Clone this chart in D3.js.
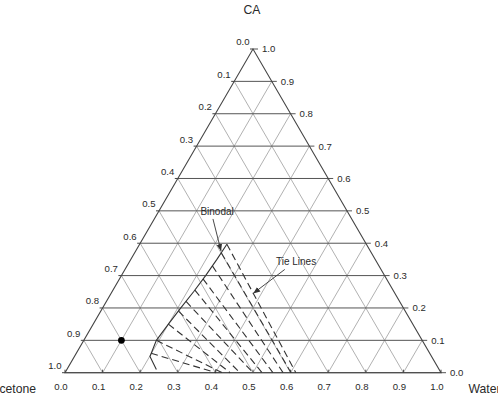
<!DOCTYPE html>
<html><head><meta charset="utf-8">
<script src="https://cdn.jsdelivr.net/npm/d3@7/dist/d3.min.js"></script>
<style>
html,body{margin:0;padding:0;background:#fff;}
svg{display:block;font-family:"Liberation Sans",Arial,sans-serif;}
</style></head>
<body>
<svg id="chart" width="498" height="397"></svg>
<script>
// ---- data ----
const tickValues = [0,0.1,0.2,0.3,0.4,0.5,0.6,0.7,0.8,0.9,1.0];
const bottomLabels = ["0.0","0.1","0.2","0.3","0.4","0.5","0.6","0.7","0.8","0.9","1.0"]; // water
const rightLabels  = ["0.0","0.1","0.2","0.3","0.4","0.5","0.6","0.7","0.8","0.9","1.0"]; // CA
const leftLabels   = ["1.0","0.9","0.8","0.7","0.6","0.5","0.4","0.3","0.2","0.1","0.0"]; // by CA row
const axisNames = {top:"CA", left:"Acetone", right:"Water"};

// binodal curve (water fraction, CA fraction)
const binodalWater = [0.232,0.229,0.224,0.217,0.208,0.200,0.193,0.201,0.238];
const binodalCA    = [0.397,0.350,0.300,0.250,0.200,0.150,0.100,0.050,0.010];

// tie lines: start on binodal, end near the water-acetone side
const tieStartWater = [0.232,0.231,0.227,0.222,0.218,0.212,0.207,0.200,0.193,0.199];
const tieStartCA    = [0.397,0.370,0.330,0.290,0.255,0.220,0.190,0.150,0.100,0.060];
const tieEndWater   = [0.614,0.601,0.580,0.553,0.524,0.500,0.465,0.439,0.418,0.402];
const tieEndCA      = [0,0,0,0,0,0,0,0,0,0];

// composition point
const pointWater = [0.1];
const pointCA    = [0.1];

// annotations (data coordinates)
const annotText  = ["Binodal","Tie Lines"];
const annotWater = [0.156,0.442];
const annotCA    = [0.497,0.345];
const arrowFromW = [0.156,0.425];
const arrowFromC = [0.475,0.319];
const arrowToW   = [0.227,0.378];
const arrowToC   = [0.376,0.245];

// ---- scales ----
const svg = d3.select("#chart");
const xS = d3.scaleLinear().domain([0,1]).range([65,441]);
const yS = d3.scaleLinear().domain([0,1]).range([372.7,49]);
const P = (w,c) => [xS(w + c/2), yS(c)];

const gridH = "#555", gridD = "#a8a8a8", edge = "#444", txt = "#2a2a2a";

// diagonal grid: constant water (parallel to left edge)
tickValues.slice(1,-1).forEach(v=>{
  const a=P(v,0), b=P(v,1-v);
  svg.append("line").attr("x1",a[0]).attr("y1",a[1]).attr("x2",b[0]).attr("y2",b[1])
    .attr("stroke",gridD).attr("stroke-width",0.9);
});
// diagonal grid: constant acetone (parallel to right edge)
tickValues.slice(1,-1).forEach(v=>{
  const a=P(1-v,0), b=P(0,1-v);
  svg.append("line").attr("x1",a[0]).attr("y1",a[1]).attr("x2",b[0]).attr("y2",b[1])
    .attr("stroke",gridD).attr("stroke-width",0.9);
});
// horizontal grid: constant CA (extending as tick past right edge)
tickValues.forEach(v=>{
  const a=P(0,v), b=P(1-v,v);
  svg.append("line").attr("x1",a[0]).attr("y1",a[1]).attr("x2",b[0]+5).attr("y2",b[1])
    .attr("stroke",gridH).attr("stroke-width",1);
  svg.append("line").attr("x1",a[0]-3).attr("y1",a[1]).attr("x2",a[0]).attr("y2",a[1])
    .attr("stroke",edge).attr("stroke-width",1);
});
// triangle edges
const tri=[P(0,0),P(1,0),P(0,1)];
svg.append("path").attr("d",d3.line()(tri)+"Z").attr("fill","none").attr("stroke",edge).attr("stroke-width",1.1);
// bottom ticks
tickValues.forEach(v=>{
  const a=P(v,0);
  svg.append("line").attr("x1",a[0]).attr("y1",a[1]).attr("x2",a[0]).attr("y2",a[1]-3)
    .attr("stroke",edge).attr("stroke-width",1);
});

// tick labels
const fs = 9.6;
tickValues.forEach((v,i)=>{
  const a=P(v,0);
  svg.append("text").attr("x",a[0]-4).attr("y",390).attr("text-anchor","middle")
    .attr("font-size",fs).attr("fill",txt).text(bottomLabels[i]);
  const r=P(1-v,v);
  svg.append("text").attr("x",r[0]+9).attr("y",r[1]+3.4).attr("text-anchor","start")
    .attr("font-size",fs).attr("fill",txt).text(rightLabels[i]);
  const l=P(0,v);
  svg.append("text").attr("x",l[0]-3.5).attr("y",l[1]-3.6).attr("text-anchor","end")
    .attr("font-size",fs).attr("fill",txt).text(leftLabels[i]);
});

// axis names (cut at the edges, as in the reference)
svg.append("text").attr("x",xS(0.5)-1).attr("y",14).attr("text-anchor","middle")
  .attr("font-size",12.2).attr("fill",txt).text(axisNames.top);
svg.append("text").attr("x",36).attr("y",393).attr("text-anchor","end")
  .attr("font-size",12.2).attr("fill",txt).text(axisNames.left);
svg.append("text").attr("x",468.5).attr("y",393).attr("text-anchor","start")
  .attr("font-size",12.2).attr("fill",txt).text(axisNames.right);

// tie lines
tieStartWater.forEach((w,i)=>{
  const a=P(w,tieStartCA[i]), b=P(tieEndWater[i],tieEndCA[i]);
  svg.append("line").attr("x1",a[0]).attr("y1",a[1]).attr("x2",b[0]).attr("y2",b[1])
    .attr("stroke","#333").attr("stroke-width",1.1).attr("stroke-dasharray","7,4");
});

// binodal
const bpts = binodalWater.map((w,i)=>P(w,binodalCA[i]));
svg.append("path").attr("d",d3.line()(bpts))
  .attr("fill","none").attr("stroke","#333").attr("stroke-width",1.1);

// point
pointWater.forEach((w,i)=>{
  const p=P(w,pointCA[i]);
  svg.append("circle").attr("cx",p[0]).attr("cy",p[1]).attr("r",3.4).attr("fill","#000");
});

// arrow marker
svg.append("defs").append("marker").attr("id","ah").attr("viewBox","0 0 10 10")
  .attr("refX",10).attr("refY",5).attr("markerWidth",7).attr("markerHeight",7)
  .attr("orient","auto").attr("markerUnits","userSpaceOnUse")
  .append("path").attr("d","M0,1 L10,5 L0,9 Z").attr("fill","#333");

annotText.forEach((t,i)=>{
  const c=P(annotWater[i],annotCA[i]);
  svg.append("text").attr("x",c[0]).attr("y",c[1]+3.5).attr("text-anchor","middle")
    .attr("font-size",10).attr("fill",txt).text(t);
  const a=P(arrowFromW[i],arrowFromC[i]), b=P(arrowToW[i],arrowToC[i]);
  svg.append("line").attr("x1",a[0]).attr("y1",a[1]).attr("x2",b[0]).attr("y2",b[1])
    .attr("stroke","#333").attr("stroke-width",0.9).attr("marker-end","url(#ah)");
});
</script>
</body></html>
